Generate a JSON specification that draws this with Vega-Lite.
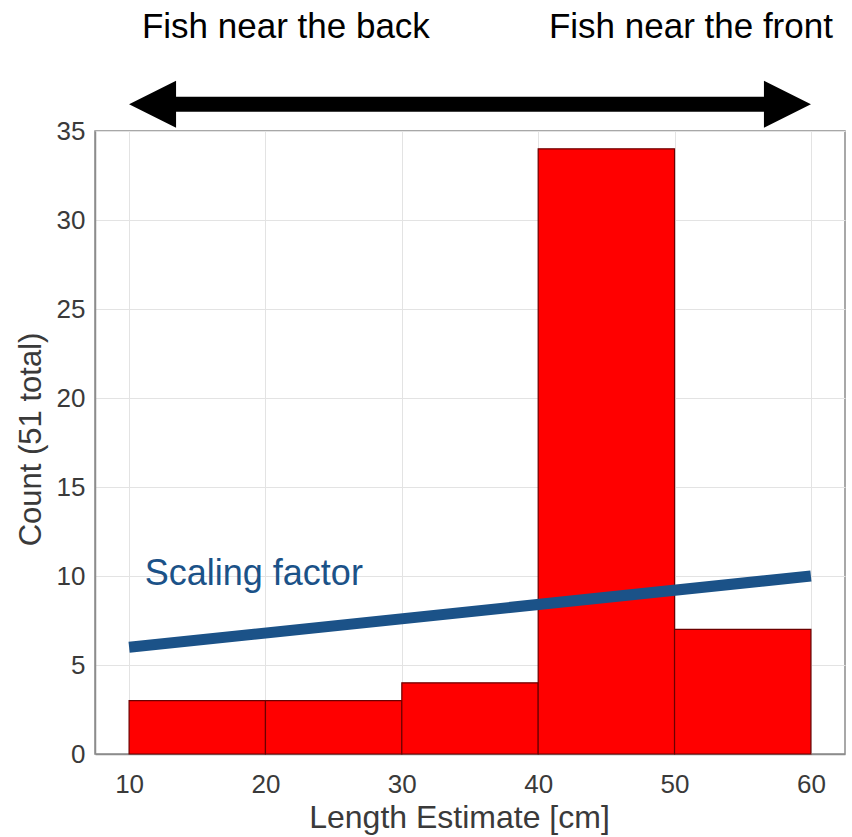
{
  "$schema": "https://vega.github.io/schema/vega-lite/v6.json",
  "width": 750,
  "height": 623,
  "autosize": {"type": "none"},
  "padding": {"left": 95, "top": 131, "right": 7, "bottom": 83},
  "background": "white",
  "config": {
    "font": "Liberation Sans",
    "view": {"stroke": "#8c8c8c", "strokeWidth": 1.5}
  },
  "datasets": {
    "bins": [
      {"bin_start": 10, "bin_end": 20, "count": 3},
      {"bin_start": 20, "bin_end": 30, "count": 3},
      {"bin_start": 30, "bin_end": 40, "count": 4},
      {"bin_start": 40, "bin_end": 50, "count": 34},
      {"bin_start": 50, "bin_end": 60, "count": 7}
    ],
    "scaling": [
      {"length": 10, "factor": 6},
      {"length": 60, "factor": 10}
    ],
    "scalingLabel": [
      {"length": 11.15, "factor": 9.5, "text": "Scaling factor"}
    ],
    "arrow": [
      {"start": 10, "end": 60, "level": 36.5}
    ],
    "headers": [
      {"x": 21.5, "y": 40.2, "text": "Fish near the back"},
      {"x": 51.2, "y": 40.2, "text": "Fish near the front"}
    ]
  },
  "layer": [
    {
      "data": {"name": "bins"},
      "mark": {"type": "rect", "color": "#ff0000", "stroke": "#6b0000", "strokeWidth": 1.2},
      "encoding": {
        "x": {
          "field": "bin_start",
          "type": "quantitative",
          "scale": {"domain": [7.5, 62.5], "nice": false, "zero": false},
          "axis": {
            "title": "Length Estimate [cm]",
            "values": [10, 20, 30, 40, 50, 60],
            "grid": true,
            "gridColor": "#e3e3e3",
            "ticks": false,
            "labelFontSize": 26,
            "labelColor": "#3a3a3a",
            "labelPadding": 17,
            "labelFlush": false,
            "domainColor": "#8c8c8c",
            "domainWidth": 1.5,
            "titleFontSize": 32,
            "titleFontWeight": "normal",
            "titleColor": "#3a3a3a",
            "titleX": 364,
            "titleY": 73,
            "titleBaseline": "alphabetic"
          }
        },
        "x2": {"field": "bin_end"},
        "y": {
          "field": "count",
          "type": "quantitative",
          "scale": {"domain": [0, 35], "nice": false},
          "axis": {
            "title": "Count (51 total)",
            "values": [0, 5, 10, 15, 20, 25, 30, 35],
            "grid": true,
            "gridColor": "#e3e3e3",
            "ticks": false,
            "labelFontSize": 26,
            "labelColor": "#3a3a3a",
            "labelPadding": 10,
            "domainColor": "#8c8c8c",
            "domainWidth": 1.5,
            "titleFontSize": 31,
            "titleFontWeight": "normal",
            "titleColor": "#3a3a3a",
            "titleX": -55,
            "titleY": 308,
            "titleBaseline": "alphabetic"
          }
        },
        "y2": {"datum": 0}
      }
    },
    {
      "data": {"name": "scaling"},
      "mark": {"type": "line", "color": "#1b5288", "strokeWidth": 11, "strokeCap": "butt"},
      "encoding": {
        "x": {"field": "length", "type": "quantitative"},
        "y": {"field": "factor", "type": "quantitative"}
      }
    },
    {
      "data": {"name": "scalingLabel"},
      "mark": {"type": "text", "color": "#1b5288", "fontSize": 36, "align": "left", "baseline": "alphabetic"},
      "encoding": {
        "x": {"field": "length", "type": "quantitative"},
        "y": {"field": "factor", "type": "quantitative"},
        "text": {"field": "text"}
      }
    },
    {
      "data": {"name": "arrow"},
      "mark": {"type": "rule", "color": "black", "strokeWidth": 15, "strokeCap": "butt", "xOffset": 30, "x2Offset": -30},
      "encoding": {
        "x": {"field": "start", "type": "quantitative"},
        "x2": {"field": "end"},
        "y": {"field": "level", "type": "quantitative"}
      }
    },
    {
      "data": {"name": "arrow"},
      "mark": {"type": "point", "shape": "M-1,0L1,-1L1,1Z", "size": 2209, "filled": true, "color": "black", "opacity": 1, "xOffset": 23.5},
      "encoding": {
        "x": {"field": "start", "type": "quantitative"},
        "y": {"field": "level", "type": "quantitative"}
      }
    },
    {
      "data": {"name": "arrow"},
      "mark": {"type": "point", "shape": "M1,0L-1,-1L-1,1Z", "size": 2209, "filled": true, "color": "black", "opacity": 1, "xOffset": -23.5},
      "encoding": {
        "x": {"field": "end", "type": "quantitative"},
        "y": {"field": "level", "type": "quantitative"}
      }
    },
    {
      "data": {"name": "headers"},
      "mark": {"type": "text", "color": "black", "fontSize": 35, "align": "center", "baseline": "alphabetic"},
      "encoding": {
        "x": {"field": "x", "type": "quantitative"},
        "y": {"field": "y", "type": "quantitative"},
        "text": {"field": "text"}
      }
    }
  ]
}
